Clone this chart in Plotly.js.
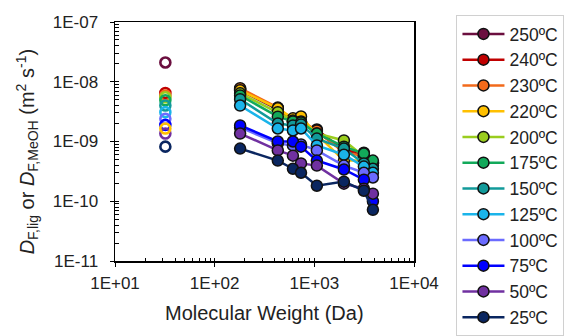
<!DOCTYPE html>
<html>
<head>
<meta charset="utf-8">
<script src="https://cdn.plot.ly/plotly-3.0.1.min.js"></script>
<style>html,body{margin:0;padding:0;background:#fff;}#chart{width:576px;height:336px;}</style>
</head>
<body>
<div id="chart"></div>
<script>
// Molecular weights (Da) of the lignin species
const mw = [180, 430, 610, 735, 1060, 1980, 3140, 3870];
// Methanol molecular weight (Da)
const mwMeOH = [32];

const temps = ['250ºC','240ºC','230ºC','220ºC','200ºC','175ºC','150ºC','125ºC','100ºC','75ºC','50ºC','25ºC'];

// D_F,lig (m2 s-1) per temperature, in the order of mw
const d250 = [7.2e-9, 3.45e-9, 2.08e-9, 2.08e-9, 1.47e-9, 6.8e-10, 5.8e-10, 4.3e-10];
const d240 = [7.5e-9, 3.6e-9, 2.17e-9, 2.08e-9, 1.59e-9, 7.1e-10, 6.5e-10, 4.4e-10];
const d230 = [7.8e-9, 3.7e-9, 2.25e-9, 2.08e-9, 1.53e-9, 6.5e-10, 5.8e-10, 4.3e-10];
const d220 = [7.2e-9, 3.6e-9, 2.44e-9, 2.63e-9, 1.31e-9, 4.8e-10, 4.8e-10, 3.95e-10];
const d200 = [6.4e-9, 3.1e-9, 2.25e-9, 2.17e-9, 1.36e-9, 1.04e-9, 5.6e-10, 4.4e-10];
const d175 = [5.9e-9, 2.6e-9, 2.17e-9, 2.08e-9, 1.36e-9, 8.2e-10, 6.3e-10, 4.8e-10];
const d150 = [5.1e-9, 2.0e-9, 1.86e-9, 1.93e-9, 1.12e-9, 7.6e-10, 4.3e-10, 3.5e-10];
const d125 = [4.0e-9, 1.65e-9, 1.53e-9, 1.65e-9, 8.6e-10, 6.0e-10, 3.8e-10, 3.0e-10];
const d100 = [1.72e-9, 9.3e-10, 8.6e-10, 8.9e-10, 7.1e-10, 3.95e-10, 3.0e-10, 2.5e-10];
const d75  = [1.86e-9, 1.0e-9, 1.0e-9, 8.2e-10, 4.8e-10, 3.4e-10, 2.3e-10, 1.0e-10];
const d50  = [1.36e-9, 7.1e-10, 5.8e-10, 4.3e-10, 3.95e-10, 1.97e-10, 1.62e-10, 1.34e-10];
const d25  = [7.6e-10, 4.8e-10, 3.5e-10, 3.0e-10, 1.82e-10, 2.13e-10, 1.5e-10, 7.2e-11];

// D_F,MeOH (m2 s-1) per temperature, same order as temps
const dMeOH = [2.1e-8, 6.5e-9, 5.9e-9, 1.65e-9, 5.5e-9, 4.9e-9, 4.0e-9, 3.1e-9, 2.4e-9, 1.9e-9, 1.36e-9, 8.2e-10];

const yTickVals = [1e-11, 1e-10, 1e-9, 1e-8, 1e-7];
const yTickText = ['1E-11', '1E-10', '1E-09', '1E-08', '1E-07'];
const xTickVals = [10, 100, 1000, 10000];
const xTickText = ['1E+01', '1E+02', '1E+03', '1E+04'];

// minor tick positions (1..9 per decade)
const xMinor = [];
for (let k = 1; k <= 3; k++) for (let m = 1; m <= 9; m++) xMinor.push(m * Math.pow(10, k));
xMinor.push(10000);
const yMinor = [];
for (let k = -11; k <= -8; k++) for (let m = 1; m <= 9; m++) yMinor.push(m * Math.pow(10, k));
yMinor.push(1e-7);

const colors = ['#6b0f3f','#c00000','#f26a1b','#ffc000','#9acd1e','#12a95a','#129a9a','#1ab4ea','#6b6bff','#0000ff','#7030a0','#0a2660'];
const series = [d250, d240, d230, d220, d200, d175, d150, d125, d100, d75, d50, d25];

const traces = [];
series.forEach((d, i) => {
  traces.push({
    x: mw, y: d, type: 'scatter', mode: 'lines+markers', name: temps[i],
    legendgroup: 'g' + i,
    line: {color: colors[i], width: 2.5},
    marker: {color: colors[i], size: 11, line: {color: '#111', width: 1.5}},
    cliponaxis: false
  });
});
const meohOrder = [0,1,2,4,5,6,7,8,9,10,11,3];
meohOrder.forEach(i => {
  traces.push({
    x: mwMeOH, y: [dMeOH[i]], type: 'scatter', mode: 'markers', showlegend: false,
    marker: {symbol: 'circle-open', color: colors[i], size: 10, line: {color: colors[i], width: 2.6}}
  });
});
// carrier for minor-tick overlay axes
traces.push({x: [], y: [], xaxis: 'x2', yaxis: 'y2', type: 'scatter', mode: 'markers', showlegend: false, hoverinfo: 'skip'});

const layout = {
  width: 576, height: 336,
  margin: {l: 115, r: 162, t: 22, b: 75},
  paper_bgcolor: '#fff', plot_bgcolor: '#fff',
  font: {family: 'Liberation Sans, Arial, sans-serif', color: '#222', size: 17},
  showlegend: true,
  legend: {
    x: 1.142, y: 1.0, xanchor: 'left', yanchor: 'top',
    bordercolor: '#d0d0d0', borderwidth: 1, bgcolor: '#fff',
    font: {size: 17.5, color: '#222'}, tracegroupgap: 0, traceorder: 'grouped',
    itemwidth: 42, maxheight: 800
  },
  xaxis: {
    type: 'log', range: [1, 4],
    tickvals: xTickVals, ticktext: xTickText,
    ticks: 'outside', ticklen: 4, tickcolor: '#000', tickwidth: 1,
    ticklabelstandoff: 2,
    showline: true, linecolor: '#000', linewidth: 1.5, mirror: true,
    showgrid: false, zeroline: false,
    tickfont: {size: 17}
  },
  yaxis: {
    type: 'log', range: [-11, -7],
    tickvals: yTickVals, ticktext: yTickText,
    ticks: 'outside', ticklen: 4, tickcolor: '#000', tickwidth: 1,
    ticklabelstandoff: 8,
    showline: true, linecolor: '#000', linewidth: 1.5, mirror: true,
    showgrid: false, zeroline: false,
    tickfont: {size: 17}
  },
  xaxis2: {
    type: 'log', range: [1, 4], overlaying: 'x', anchor: 'y', side: 'bottom',
    tickvals: xMinor, showticklabels: false,
    ticks: 'inside', ticklen: 3.5, tickcolor: '#000', tickwidth: 1,
    showline: false, showgrid: false, zeroline: false
  },
  yaxis2: {
    type: 'log', range: [-11, -7], overlaying: 'y', anchor: 'x', side: 'left',
    tickvals: yMinor, showticklabels: false,
    ticks: 'inside', ticklen: 3.5, tickcolor: '#000', tickwidth: 1,
    showline: false, showgrid: false, zeroline: false
  },
  annotations: [
    {text: 'Molecular Weight (Da)', xref: 'paper', yref: 'paper', x: 0.5, y: -0.218,
     xanchor: 'center', yanchor: 'middle', showarrow: false, font: {size: 20, color: '#222'}},
    {text: '<i>D</i><sub>F,lig</sub> or <i>D</i><sub>F,MeOH</sub> (m<sup>2</sup> s<sup>-1</sup>)',
     xref: 'paper', yref: 'paper', x: -0.294, y: 0.455, textangle: -90,
     xanchor: 'center', yanchor: 'middle', showarrow: false, font: {size: 20, color: '#222'}}
  ]
};

Plotly.newPlot('chart', traces, layout, {displayModeBar: false, staticPlot: true});
</script>
</body>
</html>
